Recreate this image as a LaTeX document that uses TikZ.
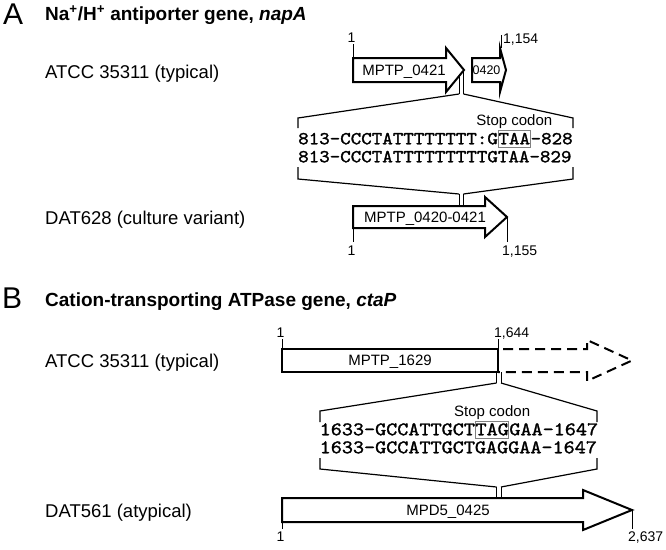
\documentclass[tikz,border=0pt]{standalone}
\usepackage{fontspec}
\setmainfont{Liberation Sans}
\newfontfamily\seqfont{lmmono10-regular}[Extension=.otf,FakeBold=1.5,FakeStretch=1.1]
\usetikzlibrary{positioning}

\begin{document}
\begin{tikzpicture}[x=1pt,y=-1pt,
    gene/.style={draw=black,fill=white,line width=2pt,line join=miter},
    dashgene/.style={draw=black,line width=2pt,line join=miter,dash pattern=on 10pt off 6pt,dash phase=11pt},
    zoomline/.style={line width=1.2pt},
    cutline/.style={line width=1pt,double,double distance=3.5pt},
    postick/.style={line width=1pt},
    panel/.style={font=\fontsize{30}{30}\selectfont,anchor=base west,inner sep=0pt},
    heading/.style={font=\bfseries\fontsize{19}{19}\selectfont,anchor=base west,inner sep=0pt},
    strain/.style={font=\fontsize{18.5}{18.5}\selectfont,anchor=base west,inner sep=0pt},
    genename/.style={font=\fontsize{15}{15}\selectfont,anchor=base,inner sep=0pt},
    coordlabel/.style={font=\fontsize{14}{14}\selectfont,inner sep=0pt},
    seqA/.style={font=\seqfont\fontsize{18.2}{18.2}\selectfont,anchor=west,inner xsep=0pt,inner ysep=2pt,text height=11.5pt,text depth=1pt},
    seqB/.style={seqA,font=\seqfont\fontsize{19.2}{19.2}\selectfont},
    stopbox/.style={draw=gray,line width=0.8pt},
    stoplabel/.style={font=\fontsize{15}{15}\selectfont,inner sep=0pt}]
    \useasboundingbox (0,0) rectangle (666,549);

    % Panel A: napA
    \node[panel] (labA) at (3,24) {A};
    \node[heading] (titleA) at (45,20) {Na\textsuperscript{+}/H\textsuperscript{+} antiporter gene, \textit{napA}};
    \node[strain] (atccA) at (45,78) {ATCC 35311 (typical)};
    \node[strain] (dat628) at (45,224) {DAT628 (culture variant)};

    % zoom lines (drawn first, the arrows cover their ends)
    \coordinate (cutA1) at (461.25,72);
    \coordinate (cutA2) at (461.25,94);
    \coordinate (cutA3) at (461.25,194);
    \coordinate (cutA4) at (461.25,207);
    \draw[cutline] (cutA1) -- (cutA2);
    \draw[zoomline] ([xshift=-2.25pt]cutA2) -- (298,118) -- (298,128);
    \draw[zoomline] ([xshift=2.25pt]cutA2) -- (573,118) -- (573,128);
    \draw[zoomline] (298,167) -- (298,179) -- ([xshift=-2.25pt]cutA3);
    \draw[zoomline] (573,167) -- (573,179) -- ([xshift=2.25pt]cutA3);
    \draw[cutline] (cutA3) -- (cutA4);

    % sequences
    \node[seqA] (seqA1) at (298,139) {813-CCCTATTTTTTTT:G};
    \node[seqA,stopbox] (stopA) at (seqA1.east) {TAA};
    \node[seqA] (seqA1end) at (stopA.east) {-828};
    \node[seqA] (seqA2) at (298,157) {813-CCCTATTTTTTTTTGTAA-829};
    \node[stoplabel,above=2pt of stopA] (stoplabA) {Stop codon};

    % gene arrows
    \draw[gene] (353,58) -- (446,58) -- (446,48) -- (464,70) -- (446,92) -- (446,82) -- (353,82) -- cycle;
    \draw[gene] (472,58) -- (500,58) -- (500,48) -- (506,70) -- (500,92) -- (500,82) -- (472,82) -- cycle;
    \draw[gene] (353,206) -- (485,206) -- (485,197) -- (507,217) -- (485,237) -- (485,228) -- (353,228) -- cycle;
    \node[genename] (g0421) at (404,75.3) {MPTP\_0421};
    \node[genename,font=\fontsize{12.5}{12.5}\selectfont] (g0420) at (486.5,74.5) {0420};
    \node[genename] (g0420b) at (425,222.3) {MPTP\_0420-0421};

    % positions
    \node[coordlabel,anchor=base] (oneA) at (351.5,42) {1};
    \draw[postick] (353,44) -- (353,58);
    \node[coordlabel,anchor=base west] (endA) at (503,43) {1,154};
    \draw[postick] (501,35) -- (501,48);
    \node[coordlabel,anchor=base] (oneA2) at (351.5,255) {1};
    \draw[postick] (353,228) -- (353,242);
    \node[coordlabel,anchor=base west] (endA2) at (502,255) {1,155};
    \draw[postick] (507,217) -- (507,242);

    % Panel B: ctaP
    \node[panel] (labB) at (2,308) {B};
    \node[heading] (titleB) at (45,306) {Cation-transporting ATPase gene, \textit{ctaP}};
    \node[strain] (atccB) at (45,367) {ATCC 35311 (typical)};
    \node[strain] (dat561) at (45,517) {DAT561 (atypical)};

    % zoom lines
    \coordinate (cutB1) at (498.75,372);
    \coordinate (cutB2) at (498.75,383);
    \coordinate (cutB3) at (498.75,487);
    \coordinate (cutB4) at (498.75,499);
    \draw[cutline] (cutB1) -- (cutB2);
    \draw[zoomline] ([xshift=-2.25pt]cutB2) -- (320,411) -- (320,422);
    \draw[zoomline] ([xshift=2.25pt]cutB2) -- (597,411) -- (597,422);
    \draw[zoomline] (320,458) -- (320,469) -- ([xshift=-2.25pt]cutB3);
    \draw[zoomline] (597,458) -- (597,469) -- ([xshift=2.25pt]cutB3);
    \draw[cutline] (cutB3) -- (cutB4);

    % sequences
    \node[seqB] (seqB1) at (319.5,430) {1633-GCCATTGCT};
    \node[seqB,stopbox] (stopB) at (seqB1.east) {TAG};
    \node[seqB] (seqB1end) at (stopB.east) {GAA-1647};
    \node[seqB] (seqB2) at (319.5,448) {1633-GCCATTGCTGAGGAA-1647};
    \node[stoplabel,above=2pt of stopB] (stoplabB) {Stop codon};

    % gene arrows
    \draw[gene] (282,349) rectangle (498,372);
    \draw[dashgene] (498,349) -- (587,349) -- (587,340) -- (632,360.5) -- (587,381) -- (587,372) -- (498,372);
    \draw[gene] (282,498) -- (583,498) -- (583,490) -- (632,510) -- (583,530) -- (583,522) -- (282,522) -- cycle;
    \node[genename] (g1629) at (390,365.8) {MPTP\_1629};
    \node[genename] (g0425) at (448,515.3) {MPD5\_0425};

    % positions
    \node[coordlabel,anchor=base] (oneB) at (280.5,337) {1};
    \draw[postick] (282,339) -- (282,349);
    \node[coordlabel,anchor=base west] (endB) at (494,337) {1,644};
    \draw[postick] (498,339) -- (498,349);
    \node[coordlabel,anchor=base] (oneB2) at (280.5,541) {1};
    \draw[postick] (282,522) -- (282,529);
    \node[coordlabel,anchor=base west] (endB2) at (628,541) {2,637};
    \draw[postick] (632,510) -- (632,529);
\end{tikzpicture}
\end{document}
